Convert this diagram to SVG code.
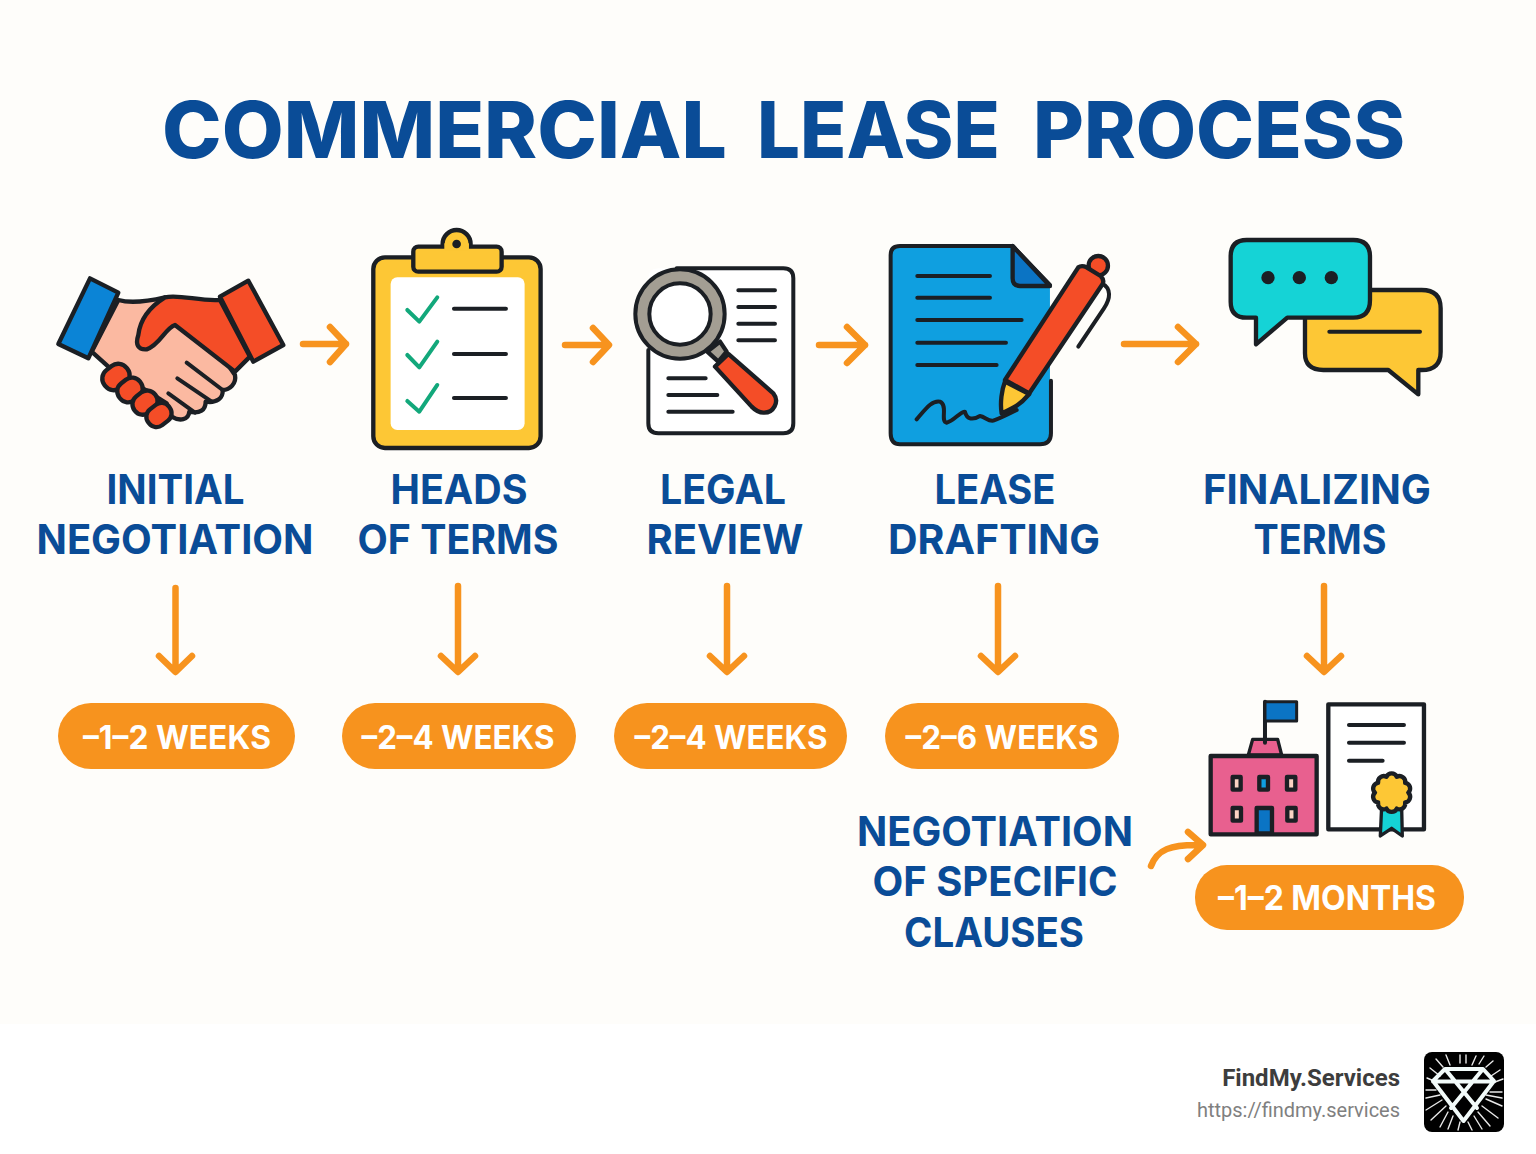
<svg xmlns="http://www.w3.org/2000/svg" width="1536" height="1154" viewBox="0 0 1536 1154">
<style>
.ln{fill:none;stroke:#1b1f24;stroke-width:12;stroke-linecap:round;stroke-linejoin:round}
.o{stroke:#1b1f24;stroke-width:13;stroke-linejoin:round;stroke-linecap:round}
.ar{fill:none;stroke:#f7931e;stroke-width:6.5;stroke-linecap:round;stroke-linejoin:round}
.chk{fill:none;stroke:#12a87b;stroke-width:12;stroke-linecap:round;stroke-linejoin:round}
.t{font-family:Inter,Roboto,sans-serif;font-weight:700;font-size:41px;fill:#0a4c97;text-anchor:middle}
.pl{fill:#f7931e}
.pt{font-family:Inter,Roboto,sans-serif;font-weight:700;font-size:32px;fill:#fff;text-anchor:middle;font-kerning:none}
.ray{stroke:#e8e8e8;stroke-width:1.4;stroke-linecap:round}
</style>
<rect width="1536" height="1154" fill="#fefdfa"/>
<rect y="1024" width="1536" height="130" fill="#ffffff"/>
<text id="title" y="158" style="font-family:Inter,Roboto,sans-serif;font-weight:800;font-size:79px;fill:#0a4c97"><tspan x="162" textLength="565" lengthAdjust="spacingAndGlyphs">COMMERCIAL</tspan> <tspan x="757" textLength="243" lengthAdjust="spacingAndGlyphs">LEASE</tspan> <tspan x="1033" textLength="372" lengthAdjust="spacingAndGlyphs">PROCESS</tspan></text>

<g id="node-initial-negotiation">
<g transform="translate(40 220) scale(.3333)">
<path class="o" fill="#fbb9a1" d="M235,240C270,250 320,245 375,232L540,400L585,465C590,490 570,510 548,510C550,535 530,550 497,545C497,570 480,582 448,575C445,600 420,605 395,590L380,550L205,440L155,395Z"/>
<path class="o" fill="#f44d27" d="M375,232C420,222 480,245 540,240L630,410L585,455L405,315C375,325 360,375 320,388C295,390 285,375 295,345C300,300 330,260 375,232Z"/>
<path class="o" fill="#0b84d6" d="M150,175L235,218L145,415L55,372Z"/>
<path class="o" fill="#f44d27" d="M540,230L625,182L730,375L640,425Z"/>
<g class="o" fill="#f44d27">
<rect x="186" y="437" width="84" height="68" rx="32" transform="rotate(-38 228 471)"/>
<rect x="231" y="478" width="78" height="64" rx="30" transform="rotate(-38 270 510)"/>
<rect x="276" y="517" width="78" height="62" rx="30" transform="rotate(-38 315 548)"/>
<rect x="318" y="555" width="78" height="60" rx="28" transform="rotate(-38 357 585)"/>
</g>
<path class="ln" d="M440,428L548,510M412,475L515,545M385,520L465,578"/>
</g>
<text class="t" x="175.5" y="504" textLength="138" lengthAdjust="spacingAndGlyphs">INITIAL</text>
<text class="t" x="175" y="554" textLength="277" lengthAdjust="spacingAndGlyphs">NEGOTIATION</text>
<rect class="pl" x="58" y="703" width="237" height="66" rx="33"/>
<text class="pt" x="177" y="749" textLength="188" lengthAdjust="spacingAndGlyphs">–1–2 WEEKS</text>
</g>

<g id="node-heads-of-terms">
<g transform="translate(40 220) scale(.3333)">
<rect class="o" x="1000" y="112" width="502" height="572" rx="35" fill="#fdc735"/>
<rect x="1052" y="172" width="402" height="458" rx="20" fill="#fff"/>
<circle class="o" cx="1250" cy="72" r="42" fill="#fdc735"/>
<rect class="o" x="1120" y="80" width="265" height="75" rx="15" fill="#fdc735"/>
<rect x="1213" y="70" width="74" height="22" fill="#fdc735"/>
<circle cx="1250" cy="72" r="13" fill="#1b1f24"/>
<path class="chk" d="M1102,270L1138,305L1192,232M1102,405L1138,442L1192,365M1102,543L1138,575L1192,495"/>
<path class="ln" d="M1242,266H1398M1242,402H1398M1242,534H1398"/>
</g>
<text class="t" x="459" y="504" textLength="137" lengthAdjust="spacingAndGlyphs">HEADS</text>
<text class="t" x="458" y="554" textLength="201" lengthAdjust="spacingAndGlyphs">OF TERMS</text>
<rect class="pl" x="342" y="703" width="234" height="66" rx="33"/>
<text class="pt" x="458" y="749" textLength="193" lengthAdjust="spacingAndGlyphs">–2–4 WEEKS</text>
</g>

<g id="node-legal-review">
<g transform="translate(620 230) scale(.3333)">
<path fill="#fff" d="M115,115H490Q520,115 520,145V580Q520,610 490,610H115Q85,610 85,580V145Q85,115 115,115Z"/>
<path class="ln" d="M170,115H490Q520,115 520,145V580Q520,610 490,610H115Q85,610 85,580V360"/>
<path class="ln" d="M355,181H465M355,231H465M355,281H465M355,331H465M145,445H257M145,495H292M145,545H338"/>
<path class="o" fill="#a39e93" d="M262,365L300,335L320,365L295,395Z"/>
<path class="o" fill="#f44d27" d="M285,410L325,372L460,490C480,515 460,550 430,548C415,548 405,540 395,530Z"/>
<circle cx="180" cy="252" r="113" fill="#fff" stroke="#1b1f24" stroke-width="54"/>
<circle cx="180" cy="252" r="113" fill="none" stroke="#a39e93" stroke-width="30"/>
</g>
<text class="t" x="723" y="504" textLength="126" lengthAdjust="spacingAndGlyphs">LEGAL</text>
<text class="t" x="725" y="554" textLength="157" lengthAdjust="spacingAndGlyphs">REVIEW</text>
<rect class="pl" x="614" y="703" width="233" height="66" rx="33"/>
<text class="pt" x="731" y="749" textLength="193" lengthAdjust="spacingAndGlyphs">–2–4 WEEKS</text>
</g>

<g id="node-lease-drafting">
<g transform="translate(620 230) scale(.3333)">
<path fill="#0f9fe0" d="M840,48L1178,48L1290,165L1290,610Q1290,643 1260,643L840,643Q812,643 812,610L812,75Q812,48 840,48Z"/>
<path class="ln" d="M1290,165L1178,48L840,48Q812,48 812,75L812,610Q812,643 840,643L1260,643Q1293,643 1293,610L1293,452"/>
<path class="o" fill="#0b74c4" d="M1178,48L1178,145Q1178,168 1200,168L1290,168Z"/>
<path class="ln" d="M892,138H1110M892,203H1110M892,270H1205M892,338H1158M892,405H1130"/>
<path class="ln" d="M890,568C915,540 935,510 960,515C985,525 960,575 980,578C1000,575 1020,545 1035,545C1040,570 1060,570 1080,558C1095,560 1105,575 1120,572C1140,565 1160,555 1190,540"/>
<path class="ln" d="M1445,160C1475,175 1472,205 1452,235L1375,350"/>
<circle class="o" cx="1435" cy="107" r="29" fill="#f44d27"/>
<path class="o" fill="#f44d27" d="M1155,450L1375,112Q1385,105 1400,112L1442,138Q1454,150 1448,162L1228,490Z"/>
<path class="o" fill="#fdc735" d="M1155,455L1228,492C1200,525 1180,535 1145,550C1140,520 1145,480 1155,455Z"/>
</g>
<text class="t" x="995" y="504" textLength="121" lengthAdjust="spacingAndGlyphs">LEASE</text>
<text class="t" x="994" y="554" textLength="212" lengthAdjust="spacingAndGlyphs">DRAFTING</text>
<rect class="pl" x="885" y="703" width="234" height="66" rx="33"/>
<text class="pt" x="1002" y="749" textLength="193" lengthAdjust="spacingAndGlyphs">–2–6 WEEKS</text>
</g>

<g id="node-finalizing-terms">
<g transform="translate(1210 225) scale(.3333)">
<path class="o" fill="#fdc735" d="M340,195L635,195Q692,195 692,250L692,380Q692,435 635,435L625,435L625,508L535,435L340,435Q285,435 285,385L285,250Q285,195 340,195Z"/>
<path class="o" fill="#15d3d6" d="M110,45L430,45Q480,45 480,95L480,225Q480,278 430,278L232,278L138,358L138,278L110,278Q62,278 62,230L62,95Q62,45 110,45Z"/>
<g fill="#1b1f24"><circle cx="174" cy="158" r="20"/><circle cx="268" cy="158" r="20"/><circle cx="364" cy="158" r="20"/></g>
<path class="ln" d="M358,320H630"/>
</g>
<text class="t" x="1317" y="504" textLength="228" lengthAdjust="spacingAndGlyphs">FINALIZING</text>
<text class="t" x="1320" y="554" textLength="133" lengthAdjust="spacingAndGlyphs">TERMS</text>
</g>

<g id="node-negotiation-clauses">
<text class="t" x="995" y="846" textLength="276" lengthAdjust="spacingAndGlyphs">NEGOTIATION</text>
<text class="t" x="995" y="896" textLength="245" lengthAdjust="spacingAndGlyphs">OF SPECIFIC</text>
<text class="t" x="994" y="947" textLength="180" lengthAdjust="spacingAndGlyphs">CLAUSES</text>
</g>

<g id="node-completion">
<g transform="translate(1130 690) scale(.3333)">
<path class="ln" d="M405,155V35"/>
<rect class="o" x="405" y="35" width="95" height="58" fill="#0b74c4" style="stroke-width:9"/>
<path class="o" fill="#e8608f" style="stroke-width:10" d="M355,195L368,148L443,148L455,195Z"/>
<path class="ln" d="M405,150V158"/>
<rect class="o" x="242" y="198" width="318" height="235" fill="#e8608f"/>
<g class="o" fill="#fbd3c3">
<rect x="308" y="261" width="24" height="38"/>
<rect x="388" y="261" width="26" height="38" fill="#0f9fe0"/>
<rect x="471" y="261" width="25" height="38"/>
<rect x="308" y="354" width="25" height="38"/>
<rect x="472" y="354" width="25" height="38"/>
<rect x="380" y="354" width="46" height="76" fill="#0b74c4"/>
</g>
<rect class="o" x="595" y="43" width="287" height="375" fill="#fff"/>
<path class="ln" d="M657,105H822M657,158H822M657,212H758"/>
<path class="o" style="stroke-width:10" fill="#15d3d6" d="M755,350L751,438L785,415L817,438L815,350Z"/>
<path class="o" fill="#fdc735" d="M835,308A17,17 0 0 1 825.5,337.4A17,17 0 0 1 800.5,355.6A17,17 0 0 1 769.5,355.6A17,17 0 0 1 744.5,337.4A17,17 0 0 1 735,308A17,17 0 0 1 744.5,278.6A17,17 0 0 1 769.5,260.4A17,17 0 0 1 800.5,260.4A17,17 0 0 1 825.5,278.6A17,17 0 0 1 835,308Z"/>
</g>
<rect class="pl" x="1195" y="865" width="269" height="65" rx="32"/>
<text class="pt" x="1327" y="910" textLength="218" lengthAdjust="spacingAndGlyphs" style="font-size:34px">–1–2 MONTHS</text>
</g>

<g id="connectors">
<path class="ar" d="M303,344H346M330,327L346,344L330,362"/>
<path class="ar" d="M565,345H608M593,328L609,345L593,362"/>
<path class="ar" d="M819,345H865M847,327L865,345L847,363"/>
<path class="ar" d="M1124,344H1196M1178,327L1196,344L1178,362"/>
<path class="ar" d="M175.5,588V671M159,656L175.5,672L192,656"/>
<path class="ar" d="M458,586V671M441,656L458,672L475,656"/>
<path class="ar" d="M727,586V671M710,656L727,672L744,656"/>
<path class="ar" d="M998,586V671M981,656L998,672L1015,656"/>
<path class="ar" d="M1324,586V671M1307,656L1324,672L1341,656"/>
<path class="ar" d="M1151,866C1157,850 1170,844 1202,845M1188,832L1203,845L1188,859"/>
</g>

<g id="brand">
<text x="1400" y="1086" text-anchor="end" style="font-family:Roboto,sans-serif;font-weight:700;font-size:24px;fill:#3d3d3d">FindMy.Services</text>
<text x="1400" y="1117" text-anchor="end" textLength="203" lengthAdjust="spacingAndGlyphs" style="font-family:Roboto,sans-serif;font-size:20px;fill:#808080">https://findmy.services</text>
<rect x="1424" y="1052" width="80" height="80" rx="8" fill="#000"/>
<path class="ray" d="M1460,1055V1063M1466,1055V1063M1476,1056L1472,1065M1484,1056L1479,1064M1493,1061L1486,1067M1500,1070L1491,1076M1503,1079L1495,1082M1502,1092H1490M1502,1098L1486,1095M1502,1106L1486,1099M1498,1118L1482,1106M1490,1126L1478,1112M1482,1129L1474,1116M1472,1130L1468,1122M1458,1130L1460,1122M1448,1129L1453,1116M1440,1127L1448,1112M1431,1120L1446,1106M1426,1110L1442,1100M1426,1098L1440,1095M1426,1090H1436M1427,1078L1434,1081M1430,1068L1440,1076M1436,1059L1443,1067M1446,1055L1450,1065"/>
<path fill="none" stroke="#f2fbfa" stroke-width="4" stroke-linejoin="round" stroke-linecap="round" d="M1445,1069H1483L1494,1081L1463.5,1121L1433,1081ZM1433,1081.5H1494M1445,1069L1477,1108M1483,1069L1451,1108"/>
</g>
</svg>
